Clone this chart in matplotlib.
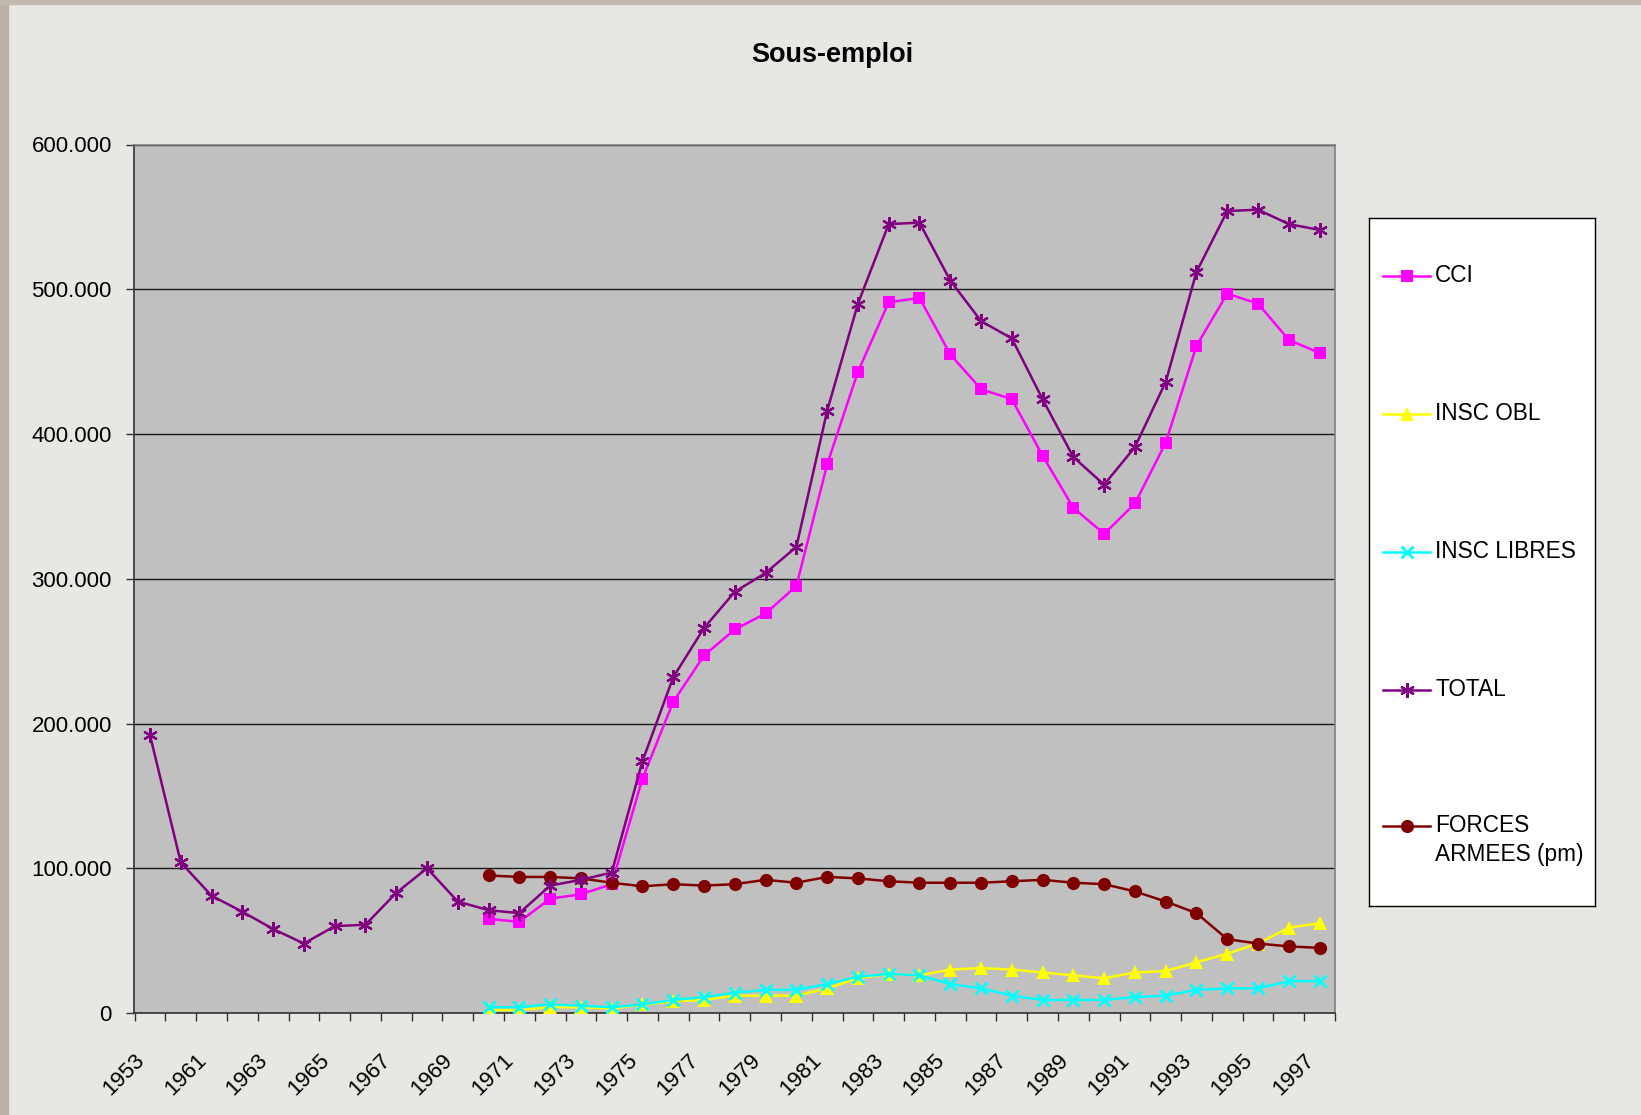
import numpy as np
import matplotlib.pyplot as plt
from matplotlib.ticker import FuncFormatter

plt.rcParams['font.family'] = ['Liberation Sans', 'DejaVu Sans']

years = ['1953'] + [str(y) for y in range(1960, 1998)]

# TOTAL covers every year, the other series start in 1970
total = [192000, 104000, 81000, 70000, 58000, 48000, 60000, 61000, 83000, 100000,
         77000, 71000, 69000, 88000, 92000, 97000, 174000, 232000, 266000, 291000,
         304000, 322000, 416000, 490000, 545000, 546000, 506000, 478000, 466000, 424000,
         384000, 365000, 391000, 436000, 512000, 554000, 555000, 545000, 541000]

cci = [65000, 63000, 79000, 82000, 89000, 162000, 215000, 247000, 265000, 276000,
       295000, 379000, 443000, 491000, 494000, 455000, 431000, 424000, 385000, 349000,
       331000, 352000, 394000, 461000, 497000, 490000, 465000, 456000]

insc_obl = [2000, 2000, 4000, 4000, 3000, 6000, 8000, 9000, 12000, 12000,
            12000, 17000, 24000, 27000, 26000, 30000, 31000, 30000, 28000, 26000,
            24000, 28000, 29000, 35000, 41000, 48000, 59000, 62000]

insc_libres = [4000, 4000, 6000, 5000, 4000, 6000, 9000, 11000, 14000, 16000,
               16000, 20000, 25000, 27000, 26000, 20000, 17000, 12000, 9000, 9000,
               9000, 11000, 12000, 16000, 17000, 17000, 22000, 22000]

forces = [95000, 94000, 94000, 93000, 90000, 87500, 89000, 88000, 89000, 92000,
          90000, 94000, 93000, 91000, 90000, 90000, 90000, 91000, 92000, 90000,
          89000, 84000, 77000, 69000, 51000, 48000, 46000, 45000]

x = np.arange(len(years))
start = years.index('1970')
x_late = x[start:]

W, H = 1641, 1115
fig = plt.figure(figsize=(W / 100, H / 100), dpi=100)
fig.patch.set_facecolor('#e8e7e3')

# slide edge strips (left and top)
fig.add_artist(plt.Rectangle((0, 0), 8 / W, 1, transform=fig.transFigure,
                             color='#bcb1a7', zorder=0))
fig.add_artist(plt.Rectangle((0, 1 - 4 / H), 1, 4 / H, transform=fig.transFigure,
                             color='#c4b9ae', zorder=0))

ax = fig.add_axes([134 / W, 1 - 1013 / H, 1201 / W, 868.5 / H])
ax.set_facecolor('#c0c0c0')

lw = 1.8
series = [
    ('CCI', x_late, cci, dict(color='#ff00ff', marker='s', ms=9, mew=0), 4),
    ('INSC OBL', x_late, insc_obl, dict(color='#ffff00', marker='^', ms=9.5, mew=0), 3),
    ('INSC LIBRES', x_late, insc_libres, dict(color='#00ffff', marker='x', ms=8.5, mew=2), 3),
    ('TOTAL', x, total, dict(color='#800080', marker=(6, 2, 0), ms=10.5, mew=1.6), 5),
    ('FORCES ARMEES (pm)', x_late, forces, dict(color='#800000', marker='o', ms=9.5, mew=0), 4),
]
for name, xs, ys, st, z in series:
    ax.plot(xs, ys, lw=lw, zorder=z, **st)

ax.set_xlim(-0.5, len(years) - 0.5)
ax.set_ylim(0, 600000)
ax.set_yticks(np.arange(0, 600001, 100000))
ax.yaxis.set_major_formatter(FuncFormatter(lambda v, p: '0' if v == 0 else f'{int(v):,}'.replace(',', '.')))
ax.grid(axis='y', color='#1a1a1a', lw=1)
ax.set_axisbelow(True)

# category boundaries carry the tick marks, labels sit on every other category
# (slightly left of the category centre, as in the original)
ax.set_xticks(np.arange(-0.5, len(years), 1.0))
ax.set_xticklabels([])
ax.set_xticks(x[::2] - 0.52, minor=True)
ax.set_xticklabels(years[::2], minor=True, rotation=45, ha='right', va='top',
                   rotation_mode='anchor', fontsize=16)
ax.tick_params(axis='x', which='major', length=6, width=1, color='#333333', direction='out')
ax.tick_params(axis='x', which='minor', length=0, pad=26.5)
ax.tick_params(axis='y', length=6, width=1, color='#333333', labelsize=16, pad=10)

for s in ['top', 'right']:
    ax.spines[s].set_color('#808080')
    ax.spines[s].set_linewidth(1.2)
for s in ['left', 'bottom']:
    ax.spines[s].set_color('#333333')
    ax.spines[s].set_linewidth(1.2)

fig.text(832 / W, 1 - 55 / H, 'Sous-emploi', ha='center', va='center',
         fontsize=19.5, fontweight='bold')

# legend box, laid out in pixel units inside its own axes
bw, bh = 226, 688
lax = fig.add_axes([1369 / W, 1 - 906 / H, bw / W, bh / H])
lax.set_facecolor('white')
lax.set_xlim(0, bw)
lax.set_ylim(bh, 0)
lax.set_xticks([])
lax.set_yticks([])
for s in lax.spines.values():
    s.set_color('black')
    s.set_linewidth(1)

entry_y = [58, 196, 334, 472, 608]
for (name, xs, ys, st, z), yy in zip(series, entry_y):
    lax.plot([14, 61], [yy, yy], color=st['color'], lw=lw)
    lax.plot([37.5], [yy], ls='none', **st)
    if name.startswith('FORCES'):
        lax.text(66, yy, 'FORCES', va='center', ha='left', fontsize=16.3)
        lax.text(66, yy + 28, 'ARMEES (pm)', va='center', ha='left', fontsize=16.3)
    else:
        lax.text(66, yy, name, va='center', ha='left', fontsize=16.3)

fig.savefig('out.png', dpi=100, facecolor=fig.get_facecolor())
